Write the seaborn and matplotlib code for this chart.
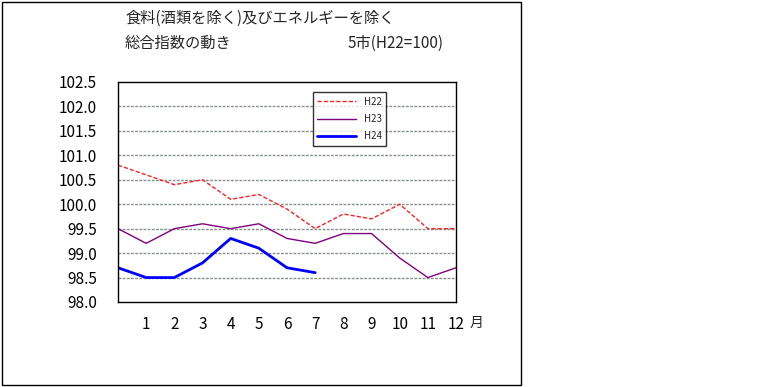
"""CPI core index (excluding food & energy), 5 cities, seaborn version"""
import matplotlib
matplotlib.use("Agg")
import matplotlib.pyplot as plt
import seaborn as sns
import pandas as pd
from matplotlib.patches import Rectangle

sns.set_style("white")
plt.rcParams["font.family"] = ["Noto Sans CJK JP", "DejaVu Sans"]

months = list(range(0, 13))
h22 = [100.8, 100.6, 100.4, 100.5, 100.1, 100.2, 99.9, 99.5, 99.8, 99.7, 100.0, 99.5, 99.5]
h23 = [99.5, 99.2, 99.5, 99.6, 99.5, 99.6, 99.3, 99.2, 99.4, 99.4, 98.9, 98.5, 98.7]
h24 = [98.7, 98.5, 98.5, 98.8, 99.3, 99.1, 98.7, 98.6]
yticks = [98.0, 98.5, 99.0, 99.5, 100.0, 100.5, 101.0, 101.5, 102.0, 102.5]
xticks = list(range(1, 13))

fig = plt.figure(figsize=(7.84, 3.87), dpi=100)
ax = fig.add_axes([118 / 784, 1 - 302 / 387, 338 / 784, 220 / 387])

# grid lines first so the series sit on top
for y in yticks[1:-1]:
    ax.axhline(y, color="#86918a", lw=1.0, ls=(0, (2, 1)), zorder=0)

sns.lineplot(x=months, y=h22, ax=ax, color="#ff2020", lw=1.0,
             linestyle=(0, (3, 1.5)), label="H22")
sns.lineplot(x=months, y=h23, ax=ax, color="#800080", lw=1.0, label="H23")
sns.lineplot(x=months[:len(h24)], y=h24, ax=ax, color="#0000ff", lw=2.0,
             label="H24")

ax.set_xlim(0, 12)
ax.set_ylim(98.0, 102.5)
ax.set_xticks(xticks)
ax.set_xticklabels([str(m) for m in xticks])
ax.set_yticks(yticks)
ax.set_yticklabels([f"{v:.1f}" for v in yticks])
ax.tick_params(axis="both", direction="in", length=4, width=1, colors="black",
               labelsize=11)
ax.tick_params(axis="x", pad=10)
ax.tick_params(axis="y", pad=15)
for s in ax.spines.values():
    s.set_color("black")
    s.set_linewidth(1.0)

leg = ax.legend(loc="upper left", bbox_to_anchor=(190 / 338, 0.975), fontsize=7,
                frameon=True, fancybox=False, handlelength=4.0,
                borderpad=0.45, labelspacing=0.75, edgecolor="black")
leg.get_frame().set_linewidth(1.0)

fig.text(470 / 784, 1 - 323 / 387, "月", fontsize=10, va="center", ha="left")
fig.text(125 / 784, 1 - 18 / 387, "食料(酒類を除く)及びエネルギーを除く",
         fontsize=11, va="center", ha="left")
fig.text(125 / 784, 1 - 43 / 387, "総合指数の動き", fontsize=11,
         va="center", ha="left")
fig.text(348 / 784, 1 - 43 / 387, "5市(H22=100)", fontsize=11,
         va="center", ha="left")

# outer chart frame
fig.patches.append(Rectangle((1.5 / 784, 1 - 385 / 387), 519.5 / 784, 383.5 / 387,
                             transform=fig.transFigure, fill=False,
                             edgecolor="black", lw=1.0))

fig.savefig("out.png", dpi=100)
